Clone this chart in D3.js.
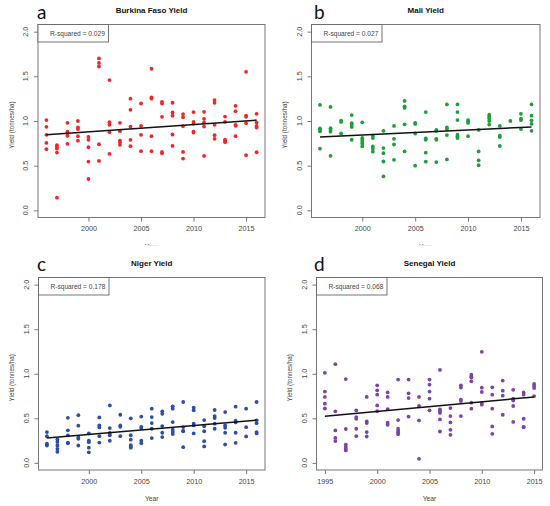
<!DOCTYPE html>
<html><head><meta charset="utf-8">
<script src="https://cdn.jsdelivr.net/npm/d3@7"></script>
<style>body{margin:0;background:#fff} svg{display:block}</style>
</head><body>
<svg id="chart" width="550" height="506"></svg>
<script>
// ---------- data ----------
const yearsMain = [1996,1997,1998,1999,2000,2001,2002,2003,2004,2005,2006,2007,2008,2009,2010,2011,2012,2013,2014,2015,2016];
const yearsSenegal = [1995,1996,1997,1998,1999,2000,2001,2002,2003,2004,2005,2006,2007,2008,2009,2010,2011,2012,2013,2014,2015];

const burkinaYield = [
  [1.01,0.935,0.845,0.755,0.685],[0.73,0.71,0.69,0.647,0.142],[0.98,0.88,0.835,0.745],
  [1.0,0.927,0.91,0.83,0.78],[0.822,0.789,0.706,0.546,0.351],[1.70,1.65,1.61,0.74,0.553],
  [1.458,0.987,0.957,0.875,0.632],[0.98,0.886,0.78,0.76,0.733],[1.25,1.125,0.938,0.789,0.718],
  [1.196,0.946,0.845,0.662],[1.585,1.265,1.25,0.83,0.662],[1.215,1.196,1.047,0.654,0.64],
  [1.204,1.095,1.06,0.849,0.721],[1.077,1.043,0.942,0.654,0.579],[1.1,0.99,0.97,0.88,0.87],
  [1.103,1.024,0.983,0.938,0.609],[1.234,1.204,0.957,0.841,0.8],[1.05,0.99,0.79,0.775,0.763],
  [1.17,1.11,0.957,0.946,0.83],[1.55,1.06,1.047,0.976,0.617],[1.08,0.983,0.946,0.927,0.65]
];
const maliYield = [
  [1.18,0.916,0.90,0.883,0.69],[1.157,0.92,0.90,0.88,0.61],[1.004,0.99,0.86],
  [1.066,0.975,0.956,0.934,0.79],[0.985,0.81,0.79,0.766,0.745,0.715],[0.836,0.81,0.715,0.69,0.657],
  [0.89,0.697,0.64,0.547,0.38],[0.945,0.80,0.737,0.565],[1.225,1.164,1.146,0.963,0.66],
  [0.98,0.967,0.86,0.50],[1.10,0.806,0.79,0.645,0.545],[0.90,0.887,0.80,0.79,0.54],
  [1.185,0.927,0.91,0.843,0.57],[1.185,1.10,1.01,0.847,0.83,0.81],[1.01,0.996,0.978,0.83],
  [0.90,0.66,0.56,0.505],[1.07,1.05,1.03,1.0,0.96],[0.945,0.836,0.82,0.72],
  [1.0],[1.08,1.026,1.01,0.91],[1.185,1.06,1.007,0.967,0.89]
];
const nigerYield = [
  [0.345,0.30,0.215,0.205,0.195],[0.263,0.233,0.195,0.158,0.125],[0.505,0.365,0.308,0.228,0.22],
  [0.535,0.417,0.285,0.27,0.195],[0.33,0.25,0.232,0.17,0.118],[0.51,0.42,0.398,0.30,0.228],
  [0.645,0.39,0.335,0.31,0.248],[0.54,0.42,0.405,0.30],[0.50,0.31,0.26,0.20,0.185,0.17],
  [0.52,0.405,0.39,0.25,0.22],[0.608,0.514,0.447,0.383,0.278],[0.578,0.55,0.413,0.338,0.29],
  [0.634,0.608,0.458,0.372,0.345,0.323],[0.683,0.402,0.36,0.355,0.176],[0.62,0.59,0.44,0.42,0.33],
  [0.48,0.41,0.355,0.244,0.184],[0.593,0.525,0.503,0.44,0.383],[0.57,0.42,0.394,0.338,0.206],
  [0.63,0.473,0.454,0.338,0.225],[0.608,0.40,0.297],[0.683,0.477,0.445,0.345,0.33]
];
const senegalYield = [
  [1.01,0.80,0.74,0.664,0.61],[1.107,0.578,0.364,0.28,0.245],[0.94,0.38,0.205,0.18,0.157,0.14],
  [0.59,0.514,0.495,0.383,0.30],[0.74,0.465,0.446,0.345,0.296],[0.87,0.814,0.765,0.645,0.58],
  [0.79,0.74,0.604,0.45,0.428],[0.935,0.48,0.383,0.36,0.34,0.322],[0.935,0.78,0.727,0.52],
  [0.74,0.638,0.476,0.045],[0.935,0.877,0.80,0.72,0.59],[1.043,0.60,0.578,0.56,0.488,0.352],
  [0.615,0.525,0.454,0.371,0.315],[0.87,0.845,0.71,0.693,0.525],[0.99,0.97,0.957,0.915,0.675,0.608],
  [1.246,0.844,0.795,0.672,0.653],[0.848,0.765,0.608,0.409,0.326],[0.923,0.81,0.754,0.54],
  [0.82,0.72,0.70,0.638,0.46],[0.79,0.765,0.495,0.405,0.40],[0.885,0.863,0.84,0.75]
];

// fitted trend line values at first and last year
const trendBurkina = [0.845, 1.01];
const trendMali = [0.822, 0.933];
const trendNiger = [0.28, 0.48];
const trendSenegal = [0.522, 0.74];

const rSquared = ["0.029", "0.027", "0.178", "0.068"];
const titles = ["Burkina Faso Yield", "Mali Yield", "Niger Yield", "Senegal Yield"];
const panelLetters = ["a", "b", "c", "d"];
const yTicks = [0, 0.5, 1.0, 1.5, 2.0];
const xTicksMain = [2000, 2005, 2010, 2015];
const xTicksSenegal = [1995, 2000, 2005, 2010, 2015];

// ---------- layout ----------
const panels = [
  {years: yearsMain, vals: burkinaYield, trend: trendBurkina, xt: xTicksMain, color: "#f22626",
   box: {l: 38, r: 265, t: 24.5, b: 217.5}, letterX: 37, letterY: 18.5, clipYear: true},
  {years: yearsMain, vals: maliYield, trend: trendMali, xt: xTicksMain, color: "#1f9e3a",
   box: {l: 311.5, r: 540, t: 24.5, b: 217.5}, letterX: 314, letterY: 18.5, clipYear: true},
  {years: yearsMain, vals: nigerYield, trend: trendNiger, xt: xTicksMain, color: "#2c4ea8",
   box: {l: 38.5, r: 265, t: 277.5, b: 470}, letterX: 37, letterY: 271, clipYear: false},
  {years: yearsSenegal, vals: senegalYield, trend: trendSenegal, xt: xTicksSenegal, color: "#7b44a6",
   box: {l: 316.5, r: 542.5, t: 277.5, b: 470}, letterX: 314, letterY: 271, clipYear: false}
];

const svg = d3.select("#chart");
const defs = svg.append("defs");
defs.append("clipPath").attr("id", "clipTop").append("rect")
  .attr("x", 0).attr("y", 0).attr("width", 550).attr("height", 245.3);

const FONT = "'Liberation Sans', Arial, sans-serif";
const axisCol = "#777";
const textCol = "#444";

panels.forEach((p, i) => {
  const b = p.box;
  const y0 = p.years[0], y1 = p.years[p.years.length - 1];
  const pad = (y1 - y0) * 0.04;
  const x = d3.scaleLinear().domain([y0 - pad, y1 + pad]).range([b.l, b.r]);
  const y = d3.scaleLinear().domain([-0.08, 2.08]).range([b.b, b.t]);
  const g = svg.append("g");

  // y axis
  const ya = g.append("g").attr("transform", `translate(${b.l},0)`)
    .call(d3.axisLeft(y).tickValues(yTicks).tickSize(4).tickFormat(d3.format(".1f")));
  ya.select(".domain").remove();
  ya.selectAll("line").attr("stroke", axisCol);
  ya.selectAll("text").remove();
  yTicks.forEach(t => {
    g.append("text")
      .attr("transform", `translate(${b.l - 12.3},${y(t)}) rotate(-90)`)
      .attr("text-anchor", "middle").attr("dy", "0.35em")
      .attr("font-family", FONT).attr("font-size", 7.2).attr("fill", textCol)
      .text(d3.format(".1f")(t));
  });

  // x axis
  const xa = g.append("g").attr("transform", `translate(0,${b.b})`)
    .call(d3.axisBottom(x).tickValues(p.xt).tickSize(4).tickFormat(d3.format("d")));
  xa.select(".domain").remove();
  xa.selectAll("line").attr("stroke", axisCol);
  xa.selectAll("text").attr("y", 8.5).attr("dy", "0.71em")
    .attr("font-family", FONT).attr("font-size", 7.2).attr("fill", textCol);

  // box
  g.append("rect").attr("x", b.l).attr("y", b.t)
    .attr("width", b.r - b.l).attr("height", b.b - b.t)
    .attr("fill", "none").attr("stroke", axisCol).attr("stroke-width", 1);

  // points
  const pts = [];
  p.vals.forEach((arr, k) => arr.forEach(v => pts.push([p.years[k], v])));
  g.append("g").selectAll("circle").data(pts).join("circle")
    .attr("cx", d => x(d[0])).attr("cy", d => y(d[1])).attr("r", 1.9)
    .attr("fill", p.color);

  // trend line
  g.append("line")
    .attr("x1", x(y0)).attr("y1", y(p.trend[0]))
    .attr("x2", x(y1)).attr("y2", y(p.trend[1]))
    .attr("stroke", "#111").attr("stroke-width", 1.5);

  // R-squared legend box
  const lg = g.append("g");
  lg.append("rect").attr("x", b.l).attr("y", b.t).attr("width", 70.5).attr("height", 17.5)
    .attr("fill", "#fff").attr("stroke", "#666").attr("stroke-width", 0.9);
  lg.append("text").attr("x", b.l + 12).attr("y", b.t + 8.9).attr("dy", "0.35em")
    .attr("font-family", FONT).attr("font-size", 6.6).attr("fill", textCol)
    .text("R-squared = " + rSquared[i]);

  // title
  g.append("text").attr("x", (b.l + b.r) / 2).attr("y", b.t - 11.5)
    .attr("text-anchor", "middle").attr("font-family", FONT).attr("font-weight", "bold")
    .attr("font-size", 8).attr("fill", "#111").text(titles[i]);

  // panel letter
  g.append("text").attr("x", p.letterX).attr("y", p.letterY)
    .attr("font-family", "Lato, 'Open Sans', sans-serif").attr("font-size", 19).attr("fill", "#111")
    .text(panelLetters[i]);

  // y label
  g.append("text")
    .attr("transform", `translate(${b.l - 26.5},${(b.t + b.b) / 2 + 4}) rotate(-90)`)
    .attr("text-anchor", "middle").attr("dy", "0.35em")
    .attr("font-family", FONT).attr("font-size", 6.3).attr("fill", textCol)
    .text("Yield (tonnes/ha)");

  // x label
  const xl = g.append("text").attr("x", (b.l + b.r) / 2).attr("y", b.b + 29)
    .attr("text-anchor", "middle").attr("dy", "0.35em")
    .attr("font-family", FONT).attr("font-size", 6.8).attr("fill", textCol)
    .text("Year");
  if (p.clipYear) xl.attr("clip-path", "url(#clipTop)");
});
</script>
</body></html>
